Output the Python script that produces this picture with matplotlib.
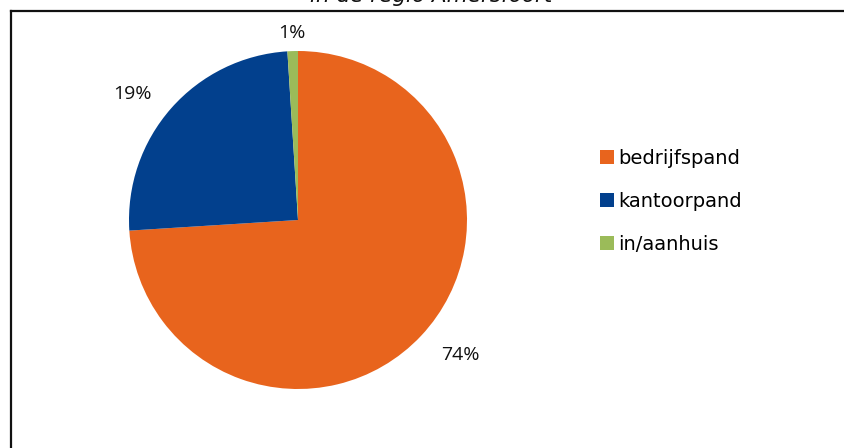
import matplotlib
matplotlib.use("Agg")
import numpy as np
import matplotlib.pyplot as plt
from matplotlib.lines import Line2D

categories = ["bedrijfspand", "kantoorpand", "in/aanhuis"]
values = [74, 25, 1]
value_labels = ["74%", "19%", "1%"]
colors = ["#E8641D", "#02408D", "#9BBB59"]
title = "in de regio Amersfoort"

W, H = 844, 448
fig = plt.figure(figsize=(W / 100, H / 100), dpi=100)

cx, cy, r = 298, 220, 169
ax = fig.add_axes([(cx - r) / W, (H - cy - r) / H, 2 * r / W, 2 * r / H])
wedges, _ = ax.pie(values, colors=colors, startangle=90, counterclock=False,
                   wedgeprops=dict(linewidth=0))
ax.set_xlim(-1, 1)
ax.set_ylim(-1, 1)
ax.set_aspect("equal")

label_dist = [1.25, 1.23, 1.11]
label_shift = [3.4, 4.2, 0.0]
for w, lab, d, s in zip(wedges, value_labels, label_dist, label_shift):
    ang = np.deg2rad((w.theta1 + w.theta2) / 2 + s)
    ax.text(d * np.cos(ang), d * np.sin(ang), lab, ha="center", va="center",
            fontsize=14, family="Open Sans", color="#111111")

fig.legend(wedges, categories, loc="upper left",
           bbox_to_anchor=(600 / W, 1 - 149 / H), frameon=False,
           prop=dict(family="DejaVu Sans", size=14),
           handlelength=0.72, handleheight=0.72, handletextpad=0.2,
           labelspacing=1.24, borderpad=0, borderaxespad=0)

fig.text(431 / W, 1 - 1.5 / H, title, ha="center", va="baseline",
         fontsize=15.5, style="italic", family="DejaVu Sans", color="#111111")

fig.add_artist(Line2D([11 / W, 11 / W], [0, 1 - 11 / H], transform=fig.transFigure,
                      color="#111111", linewidth=1.6))
fig.add_artist(Line2D([11 / W, 1], [1 - 11 / H, 1 - 11 / H], transform=fig.transFigure,
                      color="#111111", linewidth=1.6))

fig.savefig("out.png", dpi=100, facecolor="white")
